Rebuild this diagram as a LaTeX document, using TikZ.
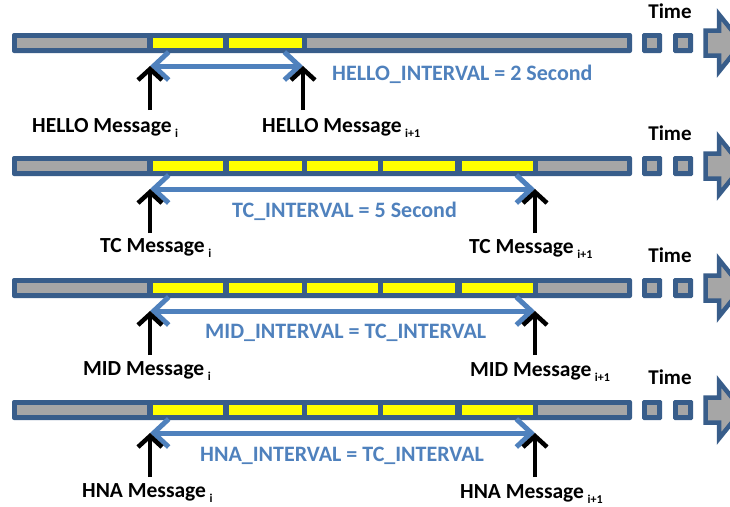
\documentclass[tikz,border=0pt]{standalone}
\usepackage{fontspec}
\setmainfont{Carlito}
\usetikzlibrary{arrows.meta}
\definecolor{barblue}{RGB}{56,93,138}
\definecolor{seggray}{RGB}{166,166,166}
\definecolor{segyellow}{RGB}{255,255,0}
\definecolor{intblue}{RGB}{79,129,189}
\newcommand\subidx[1]{\,\raisebox{-5pt}{\fontsize{12}{12}\selectfont #1}}
\newcommand\tlbar[3]{%
  \fill[barblue, rounded corners=2pt] (12,#1-10) rectangle (632,#1+10);
  \fill[seggray] (17,#1-5) rectangle (147,#1+5);
  \foreach \a/\b in {#2} {\fill[segyellow] (\a,#1-5) rectangle (\b,#1+5);}
  \fill[seggray] (#3,#1-5) rectangle (627,#1+5);
  \fill[barblue, rounded corners=1.5pt] (642,#1-10) rectangle (662,#1+10);
  \fill[seggray] (647,#1-5) rectangle (657,#1+5);
  \fill[barblue, rounded corners=1.5pt] (673,#1-10) rectangle (693,#1+10);
  \fill[seggray] (678,#1-5) rectangle (688,#1+5);
  \draw[barblue, fill=seggray, line width=4.5pt, line join=miter]
    (705.5,#1-12.5) -- (719,#1-12.5) -- (719,#1-28.5) -- (742,#1)
    -- (719,#1+28.5) -- (719,#1+12.5) -- (705.5,#1+12.5) -- cycle;
}
\begin{document}
\begin{tikzpicture}[x=1pt,y=-1pt,
  msgarrow/.style={line width=4.5pt, line cap=butt, -{Straight Barb[length=11pt,width=24pt]}},
  intarrow/.style={draw=intblue, line width=5pt,
    {Straight Barb[length=15pt,width=28pt]}-{Straight Barb[length=15pt,width=28pt]}},
  msglabel/.style={anchor=base west, inner sep=0pt, font=\fontsize{21.5}{25}\selectfont\bfseries},
  intlabel/.style={anchor=base west, inner sep=0pt, text=intblue, font=\fontsize{22}{26}\selectfont\bfseries},
  timelabel/.style={anchor=base, inner sep=0pt, font=\fontsize{21}{25}\selectfont\bfseries}]
\useasboundingbox (0,0) rectangle (730,506);
\clip (0,0) rectangle (730,506);
\fill[white] (0,0) rectangle (730,506);

% Row 1
\tlbar{43}{153/223,229/302}{307}
\node[timelabel] (time1) at (670,18) {Time};
\coordinate (h1) at (150,66);
\coordinate (h2) at (303,66);
\coordinate (h1t) at (150,110);
\coordinate (h2t) at (303,110);
\draw[intarrow] (h1) -- (h2);
\draw[msgarrow] (h1t) -- (h1);
\draw[msgarrow] (h2t) -- (h2);
\node[intlabel] (hint) at (332,80) {HELLO\_INTERVAL = 2 Second};
\node[msglabel] (hm1) at (32,132) {HELLO Message\subidx{i}};
\node[msglabel] (hm2) at (262,132) {HELLO Message\subidx{i+1}};

% Row 2
\tlbar{166}{153/223,229/302,307/378,383/455,462/533}{538}
\node[timelabel] (time2) at (670,140) {Time};
\coordinate (t1) at (150,189);
\coordinate (t2) at (535,189);
\coordinate (t1t) at (150,233);
\coordinate (t2t) at (535,233);
\draw[intarrow] (t1) -- (t2);
\draw[msgarrow] (t1t) -- (t1);
\draw[msgarrow] (t2t) -- (t2);
\node[intlabel] (tint) at (232,217) {TC\_INTERVAL = 5 Second};
\node[msglabel] (tm1) at (100,252) {TC Message\subidx{i}};
\node[msglabel] (tm2) at (469,253) {TC Message\subidx{i+1}};

% Row 3
\tlbar{288}{153/223,229/302,307/378,383/455,462/533}{538}
\node[timelabel] (time3) at (670,262) {Time};
\coordinate (m1) at (150,311);
\coordinate (m2) at (535,311);
\coordinate (m1t) at (150,355);
\coordinate (m2t) at (535,355);
\draw[intarrow] (m1) -- (m2);
\draw[msgarrow] (m1t) -- (m1);
\draw[msgarrow] (m2t) -- (m2);
\node[intlabel] (mint) at (205,338) {MID\_INTERVAL = TC\_INTERVAL};
\node[msglabel] (mm1) at (83,375) {MID Message\subidx{i}};
\node[msglabel] (mm2) at (470,376) {MID Message\subidx{i+1}};

% Row 4
\tlbar{410}{153/223,229/302,307/378,383/455,462/533}{538}
\node[timelabel] (time4) at (670,384) {Time};
\coordinate (n1) at (150,433);
\coordinate (n2) at (535,433);
\coordinate (n1t) at (150,477);
\coordinate (n2t) at (535,477);
\draw[intarrow] (n1) -- (n2);
\draw[msgarrow] (n1t) -- (n1);
\draw[msgarrow] (n2t) -- (n2);
\node[intlabel] (nint) at (200,461) {HNA\_INTERVAL = TC\_INTERVAL};
\node[msglabel] (nm1) at (82,497) {HNA Message\subidx{i}};
\node[msglabel] (nm2) at (460,498) {HNA Message\subidx{i+1}};
\end{tikzpicture}
\end{document}
